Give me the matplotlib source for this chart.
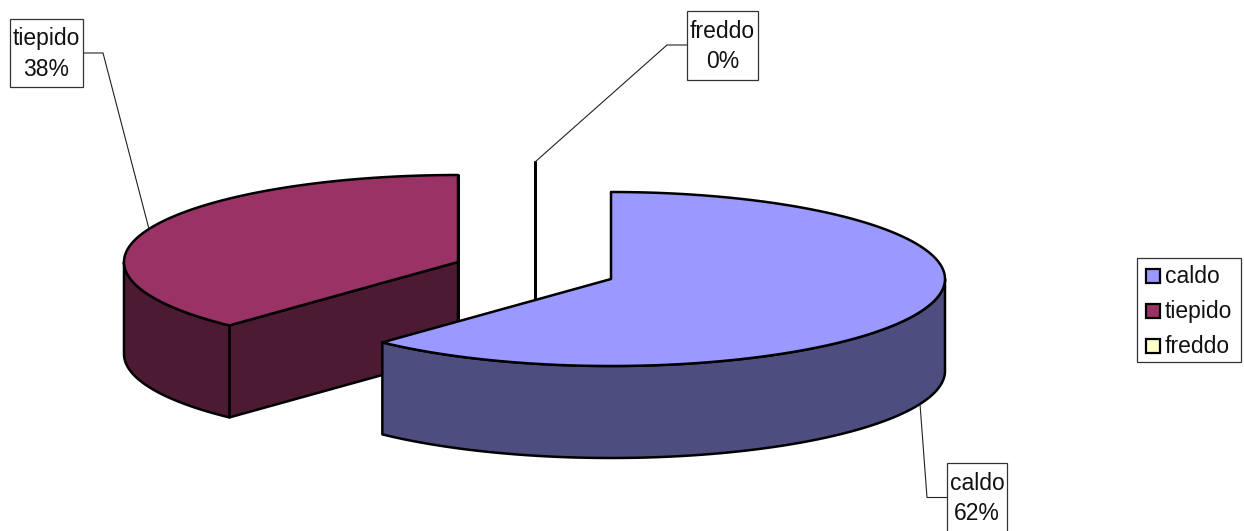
import numpy as np
import matplotlib
matplotlib.use('Agg')
import matplotlib.pyplot as plt
from matplotlib.patches import Polygon, Rectangle

plt.rcParams['font.family'] = ['Liberation Sans', 'DejaVu Sans']

# dati
names = ['caldo', 'tiepido', 'freddo']
values = [62, 38, 0]

top_colors = ['#9999ff', '#993366', '#ffffcc']
side_colors = ['#4d4d80', '#4d1a33', '#808066']

# centro di ogni fetta (fetta staccata), in pixel
centers = [(611, 279), (458, 262), (535, 249)]
rx, ry = 334, 87
depth = 92
# ordine di disegno, dal fondo verso il davanti
draw_order = [1, 2, 0]

# riquadri delle etichette (x0, y0, x1, y1) e linee guida
boxes = [(947, 463, 1007, 533), (10, 19, 83, 87), (687, 11, 758, 80)]
leaders = [
    [(947, 497.5), (927, 497.5), (920, 404)],
    [(83, 53), (103, 53), (149, 229)],
    [(687, 45), (667, 45), (535, 162)],
]

fig = plt.figure(figsize=(12.44, 5.31), dpi=100)
ax = fig.add_axes([0, 0, 1, 1])
ax.set_xlim(0, 1244)
ax.set_ylim(531, 0)
ax.axis('off')


def ell(c, t):
    t = np.radians(t)
    return np.column_stack([c[0] + rx * np.sin(t), c[1] - ry * np.cos(t)])


def draw_slice(i, t0, t1):
    c = centers[i]
    down = np.array([0, depth])
    style = dict(edgecolor='black', linewidth=1.8, joinstyle='round')

    # facce di taglio verticali
    for t, visible in ((t0, np.sin(np.radians(t0)) < 1e-6),
                       (t1, np.sin(np.radians(t1)) > -1e-6)):
        if visible:
            p = ell(c, [t])[0]
            quad = [p, c, c + down, p + down]
            ax.add_patch(Polygon(quad, closed=True, facecolor=side_colors[i], **style))

    # parete esterna, solo la meta davanti
    a, b = max(t0, 90), min(t1, 270)
    if b > a:
        arc = ell(c, np.linspace(a, b, 150))
        wall = np.vstack([arc, (arc + down)[::-1]])
        ax.add_patch(Polygon(wall, closed=True, facecolor=side_colors[i], **style))

    # faccia superiore
    arc = ell(c, np.linspace(t0, t1, 300))
    face = np.vstack([[c], arc])
    ax.add_patch(Polygon(face, closed=True, facecolor=top_colors[i], **style))


total = sum(values)
starts = np.cumsum([0] + values[:-1]) / total * 360
ends = np.cumsum(values) / total * 360

for i in draw_order:
    draw_slice(i, starts[i], ends[i])

# etichette con linea guida
for i, name in enumerate(names):
    pts = np.array(leaders[i])
    ax.plot(pts[:, 0], pts[:, 1], color='#222222', lw=0.8, zorder=5)
    x0, y0, x1, y1 = boxes[i]
    ax.add_patch(Rectangle((x0, y0), x1 - x0, y1 - y0, facecolor='white',
                           edgecolor='#333333', lw=0.9, zorder=6))
    pct = round(values[i] / total * 100)
    ax.text((x0 + x1) / 2, y0 + 20, name, fontsize=16.5, ha='center', va='center', color='#111111', zorder=7)
    ax.text((x0 + x1) / 2, y0 + 50, '%d%%' % pct, fontsize=16.5, ha='center', va='center', color='#111111', zorder=7)

# legenda
ax.add_patch(Rectangle((1137, 258), 104, 104, facecolor='white', edgecolor='#333333', lw=0.9))
for i, name in enumerate(names):
    y = 275.5 + i * 35
    ax.add_patch(Rectangle((1146, y - 7), 14, 14, facecolor=top_colors[i], edgecolor='black', lw=1.6))
    ax.text(1165, y + 1, name, fontsize=16.5, ha='left', va='center', color='#111111')

fig.savefig('out.png', dpi=100)
